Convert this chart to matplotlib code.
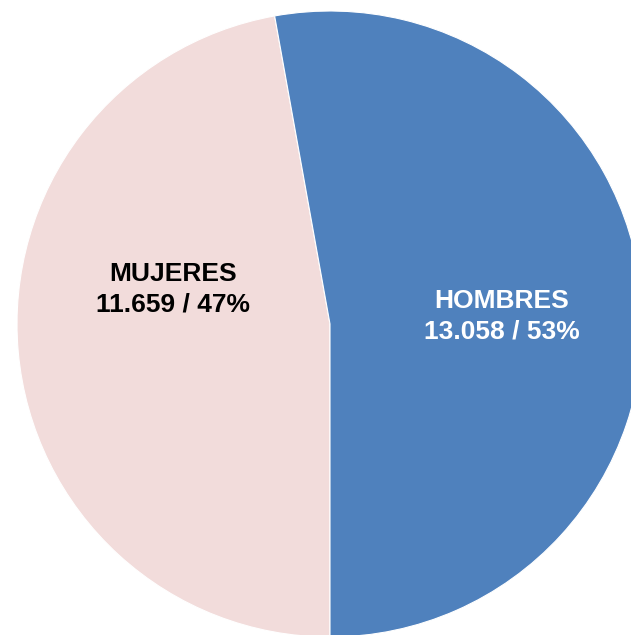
import matplotlib.pyplot as plt

# Population by sex
labels = ["MUJERES", "HOMBRES"]
values = [11659, 13058]
shares = ["47%", "53%"]
colors = ["#F2DCDB", "#4F81BD"]
text_colors = ["black", "white"]

plt.rcParams['font.family'] = ['Liberation Sans', 'DejaVu Sans']

W, H = 631, 635
fig = plt.figure(figsize=(W / 100, H / 100), dpi=100)

# pie centre and radius in pixels
cx, cy, r = 330, 324, 313
ax = fig.add_axes([(cx - r) / W, (H - cy - r) / H, 2 * r / W, 2 * r / H])
ax.set_aspect('equal')
ax.axis('off')

wedges, _ = ax.pie(values, colors=colors, startangle=-90, counterclock=False,
                   radius=1, center=(0, 0), frame=False,
                   wedgeprops=dict(linewidth=0.8, edgecolor='white'))
for w in wedges:
    w.set_clip_on(False)
ax.set_xlim(-1, 1)
ax.set_ylim(-1, 1)

# label positions in pixels
label_pos = [(173, 289), (502, 316)]
for lab, v, s, tc, (px, py) in zip(labels, values, shares, text_colors, label_pos):
    num = f"{v:,}".replace(",", ".")
    ax.text((px - cx) / r, (cy - py) / r, f"{lab}\n{num} / {s}",
            ha='center', va='center', fontsize=19, fontweight='bold',
            color=tc, linespacing=1.32)

fig.savefig("out.png", dpi=100)
